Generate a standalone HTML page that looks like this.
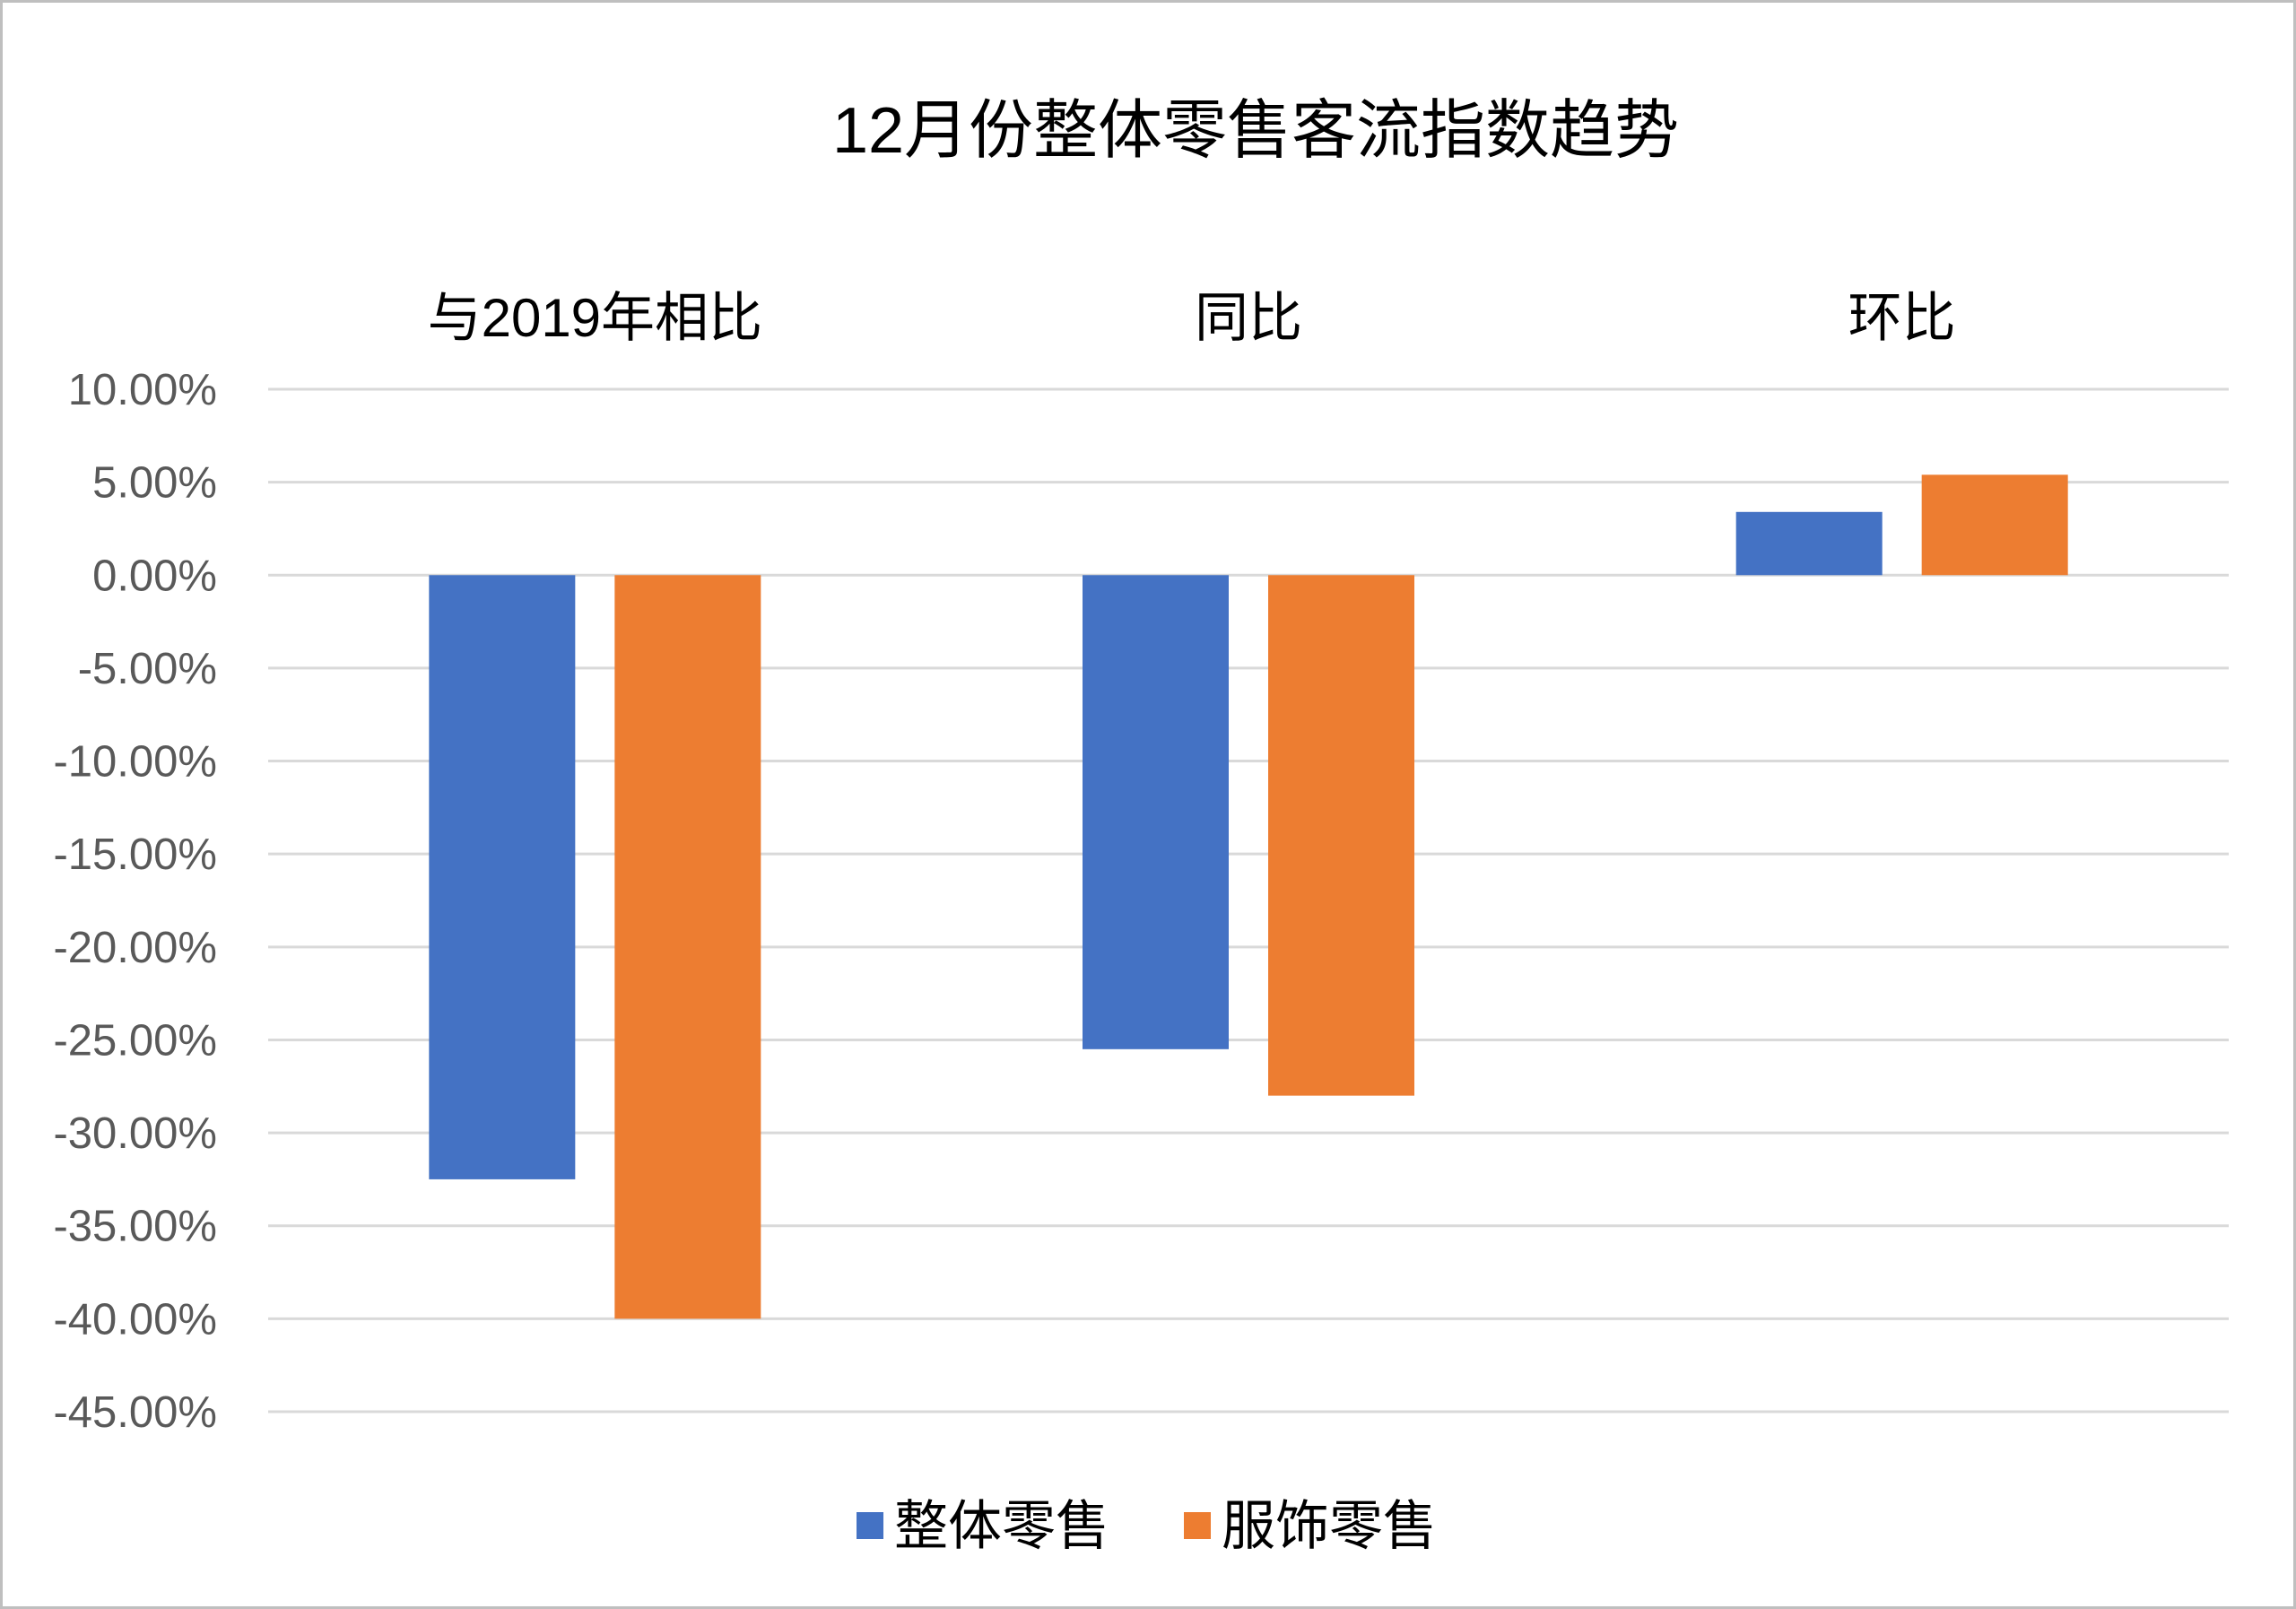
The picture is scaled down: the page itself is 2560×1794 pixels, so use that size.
<!DOCTYPE html>
<html><head><meta charset="utf-8"><style>
html,body{margin:0;padding:0;background:#fff}
svg{display:block}
text{font-family:"Liberation Sans","Noto Sans CJK SC",sans-serif}
</style></head><body>
<svg id="chart" width="2560" height="1794" viewBox="0 0 2560 1794" xmlns="http://www.w3.org/2000/svg">
<rect x="1.5" y="1.5" width="2557" height="1791" fill="#fff" stroke="#bfbfbf" stroke-width="3"/>
<text x="1400" y="170" font-size="72" text-anchor="middle" fill="#000">12月份整体零售客流指数趋势</text>
<g id="grid"></g>
<g id="yticks"></g>
<g id="cats"></g>
<g id="bars"></g>
<g>
<rect x="955" y="1686" width="30" height="30" fill="#4472c4"/>
<text x="997" y="1722" font-size="60" fill="#000">整体零售</text>
<rect x="1320" y="1686" width="30" height="30" fill="#ed7d31"/>
<text x="1362" y="1722" font-size="60" fill="#000">服饰零售</text>
</g>
</svg>
<script>
const categories=["与2019年相比","同比","环比"];
const overall=[-32.5,-25.5,3.4];
const apparel=[-40.0,-28.0,5.4];
const ticks=[10,5,0,-5,-10,-15,-20,-25,-30,-35,-40,-45];
const NS="http://www.w3.org/2000/svg";
const x0=299,x1=2485,yTop=434,yBot=1574,vMax=10,vMin=-45;
function y(v){return yTop+(vMax-v)/(vMax-vMin)*(yBot-yTop);}
const gw=(x1-x0)/categories.length;
function cx(i){return x0+gw*(i+0.5);}
function mk(tag,attrs,parent){const e=document.createElementNS(NS,tag);for(const k in attrs)e.setAttribute(k,attrs[k]);parent.appendChild(e);return e;}
const grid=document.getElementById('grid'),yt=document.getElementById('yticks'),cats=document.getElementById('cats'),bars=document.getElementById('bars');
ticks.forEach(t=>{
 const l=mk('line',{x1:x0,x2:x1,y1:y(t),y2:y(t),stroke:'#d9d9d9','stroke-width':3},grid);
 
 
 const tx=mk('text',{x:242,y:y(t)+17,'font-size':49,'text-anchor':'end',fill:'#595959'},yt);
 tx.textContent=t.toFixed(2)+'%';
 
 
});
const bw=163,gap=44;
categories.forEach((c,i)=>{
 const tx=mk('text',{x:cx(i),y:375,'font-size':60,'text-anchor':'middle',fill:'#000'},cats);
 tx.textContent=c;
 
 
 [[overall,'#4472c4',-1],[apparel,'#ed7d31',1]].forEach(([arr,col,s])=>{
  const v=arr[i];
  const bx=s<0?cx(i)-gap/2-bw:cx(i)+gap/2;
  const r=mk('rect',{x:bx,y:Math.min(y(0),y(v)),width:bw,height:Math.abs(y(v)-y(0)),fill:col},bars);
  
  
 });
});
</script>
</body></html>
